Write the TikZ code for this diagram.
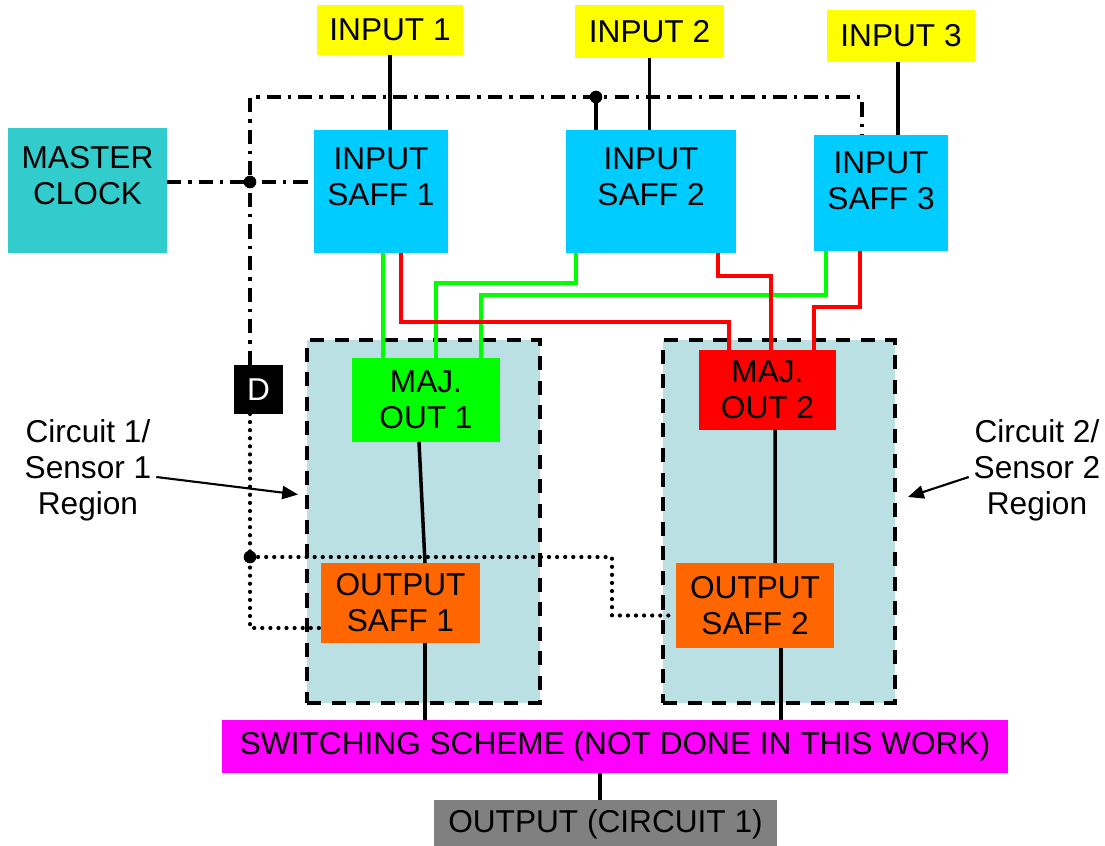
\documentclass[tikz,border=0pt]{standalone}
\usepackage{fontspec}
\setmainfont{Liberation Sans}
\usetikzlibrary{calc,arrows.meta}

\definecolor{inyellow}{HTML}{FFFF00}
\definecolor{clockteal}{HTML}{33CCCC}
\definecolor{saffblue}{HTML}{00CCFF}
\definecolor{regblue}{HTML}{BBE0E3}
\definecolor{majgreen}{HTML}{00FF00}
\definecolor{majred}{HTML}{FF0000}
\definecolor{outorange}{HTML}{FF6600}
\definecolor{swmagenta}{HTML}{FF00FF}
\definecolor{outgray}{HTML}{808080}

\begin{document}
\begin{tikzpicture}[x=0.02cm, y=-0.02cm,
    font=\fontsize{18}{20.5}\selectfont,
    box/.style={rectangle, inner sep=0pt, outer sep=0pt, align=center},
    region/.style={box, draw, fill=regblue, line width=2.2pt, dash pattern=on 8pt off 6pt},
    wire/.style={line width=2pt},
    clk/.style={line width=2.2pt, dash pattern=on 8pt off 4pt on 2pt off 4pt},
    dots/.style={line width=2.4pt, line cap=round, dash pattern=on 0pt off 4.6pt},
    pointer/.style={line width=1.2pt, -{Triangle[length=9pt,width=7.5pt]}}]
    \useasboundingbox (0,0) rectangle (1105,845);

    % Regions
    \node[region, minimum width=4.66cm, minimum height=7.26cm] (reg1) at (423.5,521.5) {};
    \node[region, minimum width=4.64cm, minimum height=7.26cm] (reg2) at (779,521.5) {};

    % Boxes
    \node[box, fill=inyellow, minimum width=2.92cm, minimum height=1.00cm] (in1) at (390,30) {INPUT 1};
    \node[box, fill=inyellow, minimum width=2.98cm, minimum height=1.06cm] (in2) at (649.5,31.5) {INPUT 2};
    \node[box, fill=inyellow, minimum width=2.96cm, minimum height=1.04cm] (in3) at (901,36) {INPUT 3};
    \node[box, fill=clockteal, minimum width=3.18cm, minimum height=2.50cm, text depth=17pt] (clock) at (87.5,190.5) {MASTER\\CLOCK};
    \node[box, fill=saffblue, minimum width=2.68cm, minimum height=2.46cm, text depth=17pt] (saff1) at (381,191.5) {INPUT\\SAFF 1};
    \node[box, fill=saffblue, minimum width=3.40cm, minimum height=2.46cm, text depth=17pt] (saff2) at (651,191.5) {INPUT\\SAFF 2};
    \node[box, fill=saffblue, minimum width=2.68cm, minimum height=2.32cm, text depth=14pt] (saff3) at (881,193) {INPUT\\SAFF 3};
    \node[box, fill=majgreen, minimum width=2.96cm, minimum height=1.68cm] (maj1) at (426,400) {MAJ.\\OUT 1};
    \node[box, fill=majred, minimum width=2.74cm, minimum height=1.60cm] (maj2) at (767.5,390) {MAJ.\\OUT 2};
    \node[box, fill=black, text=white, minimum width=0.98cm, minimum height=0.98cm] (dbox) at (258.5,389.5) {D};
    \node[box, fill=outorange, minimum width=3.18cm, minimum height=1.60cm] (osaff1) at (400.5,603) {OUTPUT\\SAFF 1};
    \node[box, fill=outorange, minimum width=3.16cm, minimum height=1.70cm] (osaff2) at (755,605.5) {OUTPUT\\SAFF 2};
    \node[box, fill=swmagenta, minimum width=15.72cm, minimum height=1.06cm] (switch) at (615,746.5) {SWITCHING SCHEME (NOT DONE IN THIS WORK)};
    \node[box, fill=outgray, minimum width=6.86cm, minimum height=0.96cm] (out) at (605.5,824) {OUTPUT (CIRCUIT 1)};

    % Labels
    \node[box] (lab1) at (88,470) {Circuit 1/\\Sensor 1\\Region};
    \node[box] (lab2) at (1037,470) {Circuit 2/\\Sensor 2\\Region};

    % Junctions
    \coordinate (clkj) at (250,182);
    \coordinate (ctop) at (250,97);
    \coordinate (ctopm) at (596,97);
    \coordinate (ctopr) at (862,97);
    \coordinate (dotj) at (250,557);

    % Clock lines
    \draw[clk] (clkj -| clock.east) -- (clkj -| saff1.west);
    \draw[clk] (ctop |- dbox.north) -- (ctop) -- (ctopr) -- (ctopr |- saff3.north);
    \draw[wire] (ctopm) -- (ctopm |- saff2.north);
    \fill (clkj) circle[radius=3.6pt];
    \fill (ctopm) circle[radius=3.6pt];

    % Delayed clock
    \draw[dots] (ctop |- dbox.south) |- ($(osaff1.west)+(0,25)$);
    \draw[dots] (dotj) -- ++(362,0) |- ($(osaff2.west)+(0,10)$);
    \fill (dotj) circle[radius=3.6pt];

    % Inputs
    \draw[wire] (in1.south) -- (in1.south |- saff1.north);
    \draw[wire] (in2.south) -- (in2.south |- saff2.north);
    \draw[wire] ($(in3.south)+(-3,0)$) -- ($(in3.south |- saff3.north)+(-3,0)$);

    % Voter wires
    \draw[wire, majgreen] ($(saff1.south)+(2,0)$) -- ($(maj1.north)+(-43,0)$);
    \draw[wire, majgreen] ($(saff2.south)+(-75,0)$) -- ++(0,30) -| ($(maj1.north)+(10,0)$);
    \draw[wire, majgreen] ($(saff3.south)+(-55,0)$) -- ++(0,44) -| ($(maj1.north)+(55,0)$);
    \draw[wire, majred] ($(saff1.south)+(20,0)$) -- ++(0,69) -| ($(maj2.north)+(-38.5,0)$);
    \draw[wire, majred] ($(saff2.south)+(67,0)$) -- ++(0,23) -| ($(maj2.north)+(3.5,0)$);
    \draw[wire, majred] ($(saff3.south)+(-21,0)$) -- ++(0,56) -| ($(maj2.north)+(46.5,0)$);

    % Outputs
    \draw[wire] ($(maj1.south)+(-7,0)$) -- ($(osaff1.north)+(24.5,0)$);
    \draw[wire] ($(maj2.south)+(7.5,0)$) -- ($(osaff2.north)+(20,0)$);
    \draw[wire] ($(osaff1.south)+(24.5,0)$) -- ($(switch.north)+(-190,0)$);
    \draw[wire] ($(osaff2.south)+(26,0)$) -- ($(switch.north)+(166,0)$);
    \draw[wire] ($(switch.south)+(-15,0)$) -- ($(out.north)+(-5.5,0)$);

    % Arrows
    \draw[pointer] ($(lab1.east)+(5,7)$) -- ($(reg1.west)+(-9,-27)$);
    \draw[pointer] ($(lab2.west)+(-5,7)$) -- ($(reg2.east)+(13,-24.5)$);
\end{tikzpicture}
\end{document}
